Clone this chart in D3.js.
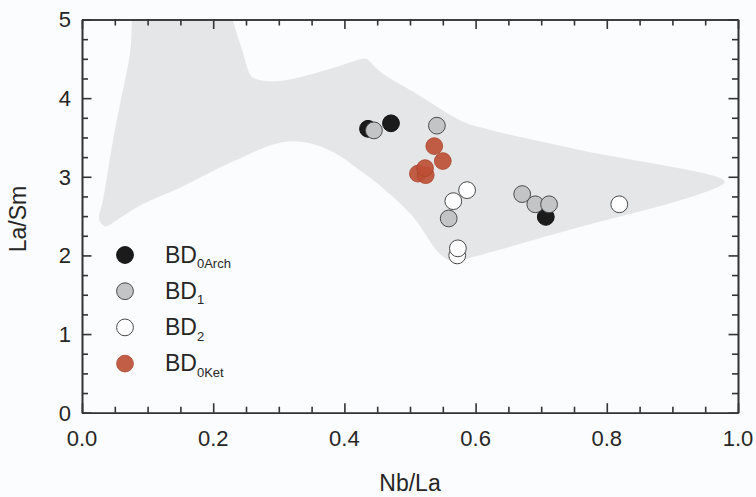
<!DOCTYPE html>
<html>
<head>
<meta charset="utf-8">
<script src="https://cdn.jsdelivr.net/npm/d3@7/dist/d3.min.js"></script>
<style>
  html, body { margin: 0; padding: 0; background: #fbfcfd; }
  svg { display: block; font-family: "Liberation Sans", Arial, sans-serif; }
</style>
</head>
<body>
<svg id="chart" width="756" height="497"></svg>
<script>
// ---- data ----
const seriesNames = ["BD0Arch", "BD1", "BD2", "BD0Ket"];
const legendMain = ["BD", "BD", "BD", "BD"];
const legendSub = ["0Arch", "1", "2", "0Ket"];

const bd0ArchX = [0.436, 0.471, 0.707];
const bd0ArchY = [3.61, 3.68, 2.49];

const bd1X = [0.445, 0.541, 0.559, 0.671, 0.691, 0.712];
const bd1Y = [3.59, 3.65, 2.47, 2.78, 2.65, 2.65];

const bd2X = [0.572, 0.573, 0.566, 0.587, 0.819];
const bd2Y = [2.00, 2.09, 2.69, 2.83, 2.65];

const bd0KetX = [0.537, 0.550, 0.512, 0.524, 0.523];
const bd0KetY = [3.39, 3.20, 3.04, 3.02, 3.11];

// shaded envelope (Nb/La, La/Sm) outline
const envX = [0.095, 0.072, 0.050, 0.032, 0.026, 0.030, 0.036, 0.046, 0.090, 0.152, 0.229, 0.305, 0.346, 0.386, 0.427, 0.454, 0.505, 0.543, 0.560, 0.575, 0.596, 0.759, 0.912, 0.972, 0.980, 0.974, 0.759, 0.607, 0.576, 0.505, 0.457, 0.433, 0.428, 0.381, 0.305, 0.270, 0.258, 0.244, 0.232, 0.224, 0.222];
const envY = [5.60, 4.50, 3.59, 2.70, 2.47, 2.40, 2.37, 2.41, 2.64, 2.87, 3.19, 3.44, 3.43, 3.30, 3.06, 2.89, 2.49, 2.04, 1.94, 1.94, 1.98, 2.36, 2.70, 2.88, 2.93, 2.98, 3.34, 3.63, 3.72, 4.08, 4.32, 4.50, 4.50, 4.38, 4.22, 4.23, 4.28, 4.62, 4.93, 5.25, 5.60];

const xMajorTicks = [0, 0.2, 0.4, 0.6, 0.8, 1.0];
const xTickLabels = ["0.0", "0.2", "0.4", "0.6", "0.8", "1.0"];
const yMajorTicks = [0, 1, 2, 3, 4, 5];
const yTickLabels = ["0", "1", "2", "3", "4", "5"];
const xLabel = "Nb/La";
const yLabel = "La/Sm";

// ---- layout ----
const W = 756, H = 497;
const m = { left: 82, right: 18, top: 19.5, bottom: 84.3 };
const iw = W - m.left - m.right, ih = H - m.top - m.bottom;

const svg = d3.select("#chart");
const x = d3.scaleLinear().domain([0, 1]).range([m.left, m.left + iw]);
const y = d3.scaleLinear().domain([0, 5]).range([m.top + ih, m.top]);

svg.append("defs").append("clipPath").attr("id", "plotclip")
  .append("rect").attr("x", m.left).attr("y", m.top).attr("width", iw).attr("height", ih);

// envelope
const envPts = envX.map((v, i) => [v, envY[i]]);
svg.append("path")
  .attr("clip-path", "url(#plotclip)")
  .attr("d", d3.line().x(d => x(d[0])).y(d => y(d[1])).curve(d3.curveCatmullRomClosed.alpha(0.5))(envPts))
  .attr("fill", "#e5e6e7");

// axes
const xMinor = d3.range(0, 1.0001, 0.05).filter(v => Math.abs(Math.round(v * 5) - v * 5) > 1e-6);
const yMinor = d3.range(0, 5.0001, 0.25).filter(v => Math.abs(Math.round(v) - v) > 1e-6);
const axisColor = "#333";

function styleAxis(g) {
  g.selectAll("path.domain").attr("stroke", axisColor).attr("stroke-width", 1.6);
  g.selectAll(".tick line").attr("stroke", axisColor).attr("stroke-width", 1.6);
  g.selectAll("text").remove();
}

[["bottom", d3.axisBottom(x), m.top + ih, xMajorTicks, xMinor, 0],
 ["top", d3.axisTop(x), m.top, xMajorTicks, xMinor, 0],
 ["left", d3.axisLeft(y), m.left, yMajorTicks, yMinor, 1],
 ["right", d3.axisRight(y), m.left + iw, yMajorTicks, yMinor, 1]].forEach(([side, ax, pos, major, minor, vert]) => {
  const tr = vert ? `translate(${pos},0)` : `translate(0,${pos})`;
  svg.append("g").attr("transform", tr)
    .call(ax.tickValues(minor).tickSize(-6).tickSizeOuter(0))
    .call(styleAxis);
  svg.append("g").attr("transform", tr)
    .call(ax.tickValues(major).tickSize(-9.5).tickSizeOuter(0))
    .call(styleAxis);
});

// tick labels
svg.append("g").selectAll("text").data(xMajorTicks).join("text")
  .attr("x", d => x(d)).attr("y", 446)
  .attr("text-anchor", "middle").attr("font-size", 22).attr("fill", "#262626")
  .text((d, i) => xTickLabels[i]);
svg.append("g").selectAll("text").data(yMajorTicks).join("text")
  .attr("x", 71).attr("y", d => y(d)).attr("dy", "0.36em")
  .attr("text-anchor", "end").attr("font-size", 22).attr("fill", "#262626")
  .text((d, i) => yTickLabels[i]);

// axis titles
svg.append("text").attr("x", m.left + iw / 2).attr("y", 491)
  .attr("text-anchor", "middle").attr("font-size", 23).attr("fill", "#262626").text(xLabel);
svg.append("text").attr("transform", `translate(26,${m.top + ih / 2 + 3}) rotate(-90)`)
  .attr("text-anchor", "middle").attr("font-size", 23).attr("fill", "#262626").text(yLabel);

// points
const styles = [
  { fill: "#1b1b1b", stroke: "#111", sw: 1, op: 1 },
  { fill: "#c3c4c5", stroke: "#4a4a4a", sw: 1, op: 1 },
  { fill: "#ffffff", stroke: "#4a4a4a", sw: 1, op: 1 },
  { fill: "#bd4f36", stroke: "#a9452f", sw: 0.8, op: 0.92 }
];
const seriesX = [bd0ArchX, bd1X, bd2X, bd0KetX];
const seriesY = [bd0ArchY, bd1Y, bd2Y, bd0KetY];
const R = 8.4;

seriesX.forEach((xs, s) => {
  svg.append("g").selectAll("circle").data(xs.map((v, i) => [v, seriesY[s][i]])).join("circle")
    .attr("cx", d => x(d[0])).attr("cy", d => y(d[1])).attr("r", R)
    .attr("fill", styles[s].fill).attr("fill-opacity", styles[s].op)
    .attr("stroke", styles[s].stroke).attr("stroke-width", styles[s].sw);
});

// legend
const legY0 = 255, legDy = 36.2;
const leg = svg.append("g");
seriesNames.forEach((n, i) => {
  const cy = legY0 + i * legDy;
  leg.append("circle").attr("cx", 125).attr("cy", cy).attr("r", R)
    .attr("fill", styles[i].fill).attr("fill-opacity", styles[i].op)
    .attr("stroke", styles[i].stroke).attr("stroke-width", styles[i].sw);
  const t = leg.append("text").attr("x", 165).attr("y", cy + 7.7).attr("fill", "#262626").attr("font-size", 23);
  t.append("tspan").text(legendMain[i]);
  t.append("tspan").attr("font-size", 13).attr("dy", 5.5).text(legendSub[i]);
});
</script>
</body>
</html>
